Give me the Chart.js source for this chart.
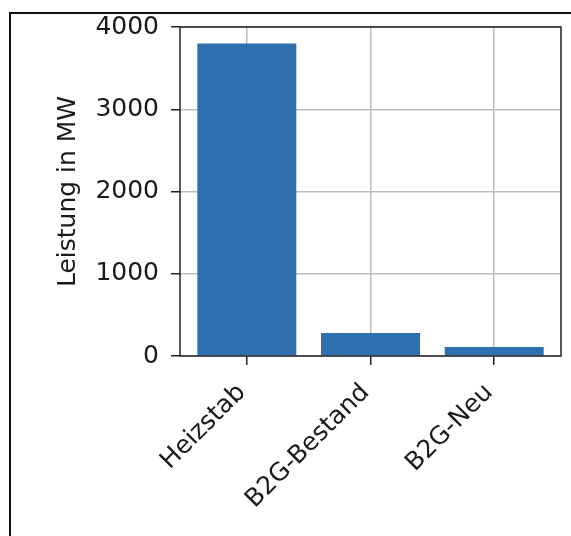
<!DOCTYPE html>
<html>
<head>
<meta charset="utf-8">
<script src="https://cdn.jsdelivr.net/npm/chart.js@4"></script>
<style>
  body { margin: 0; background: #fff; }
  #wrap { position: relative; width: 571px; height: 536px; overflow: hidden; }
  #frame { position: absolute; left: 9px; top: 12px; width: 700px; height: 700px;
           border-left: 2px solid #111; border-top: 2px solid #111; }
  canvas { position: absolute; left: 0; top: 0; }
</style>
</head>
<body>
<div id="wrap">
  <div id="frame"></div>
  <canvas id="chart" width="571" height="536"></canvas>
</div>
<script>
const categories = ['Heizstab', 'B2G-Bestand', 'B2G-Neu'];
const leistung = [3800, 280, 110];
const yTicks = [0, 1000, 2000, 3000, 4000];

const font = { family: 'DejaVu Sans', size: 25 };
const textColor = '#1a1a1a';

// dark frame round the plot area
const plotBox = {
  id: 'plotBox',
  afterDraw(chart) {
    const { ctx, chartArea: a } = chart;
    ctx.save();
    ctx.strokeStyle = '#222';
    ctx.lineWidth = 1.5;
    ctx.strokeRect(a.left, a.top, a.right - a.left, a.bottom - a.top);
    ctx.restore();
  }
};

new Chart(document.getElementById('chart'), {
  type: 'bar',
  data: {
    datasets: [{
      data: leistung.map((v, i) => ({ x: i, y: v })),
      backgroundColor: '#2e70b0',
      barPercentage: 0.8,
      categoryPercentage: 1.0,
    }]
  },
  options: {
    responsive: false,
    animation: false,
    layout: { padding: { top: 25, right: 10, left: 0, bottom: 0 } },
    plugins: { legend: { display: false }, tooltip: { enabled: false } },
    scales: {
      x: {
        type: 'linear',
        min: -0.54,
        max: 2.54,
        offset: false,
        afterBuildTicks(scale) { scale.ticks = categories.map((c, i) => ({ value: i })); },
        grid: { offset: false, color: '#bdbdbd', lineWidth: 1.5, tickColor: '#222', tickLength: 9, tickWidth: 1.5 },
        border: { display: false },
        ticks: {
          font: font, color: textColor, minRotation: 45, maxRotation: 45, padding: 13, labelOffset: -5,
          callback: (v) => categories[v]
        },
        afterFit(scale) { scale.height = 180; }
      },
      y: {
        min: 0,
        max: 4000,
        afterBuildTicks(scale) { scale.ticks = yTicks.map(v => ({ value: v })); },
        grid: { color: '#bdbdbd', lineWidth: 1.5, tickColor: '#222', tickLength: 9, tickWidth: 1.5 },
        border: { display: false },
        ticks: { font: font, color: textColor, padding: 12, callback: (v) => String(v) },
        title: { display: true, text: 'Leistung in MW', font: font, color: textColor, padding: { top: 53, bottom: 0 } },
        afterFit(scale) { scale.width = 180; }
      }
    }
  },
  plugins: [plotBox]
});
</script>
</body>
</html>
